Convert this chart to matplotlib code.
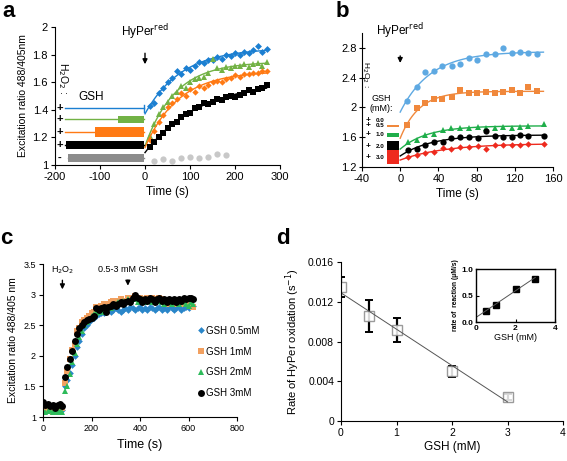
import numpy as np
import matplotlib
matplotlib.use("Agg")
import matplotlib.pyplot as plt
from matplotlib.patches import Rectangle

plt.rcParams['font.family'] = ['Liberation Sans', 'DejaVu Sans']
plt.rcParams['axes.unicode_minus'] = False

# ---------------- Panel a data ----------------
a_time = [10, 20, 30, 40, 50, 60, 70, 80, 90, 100, 110, 120, 130, 140, 150, 160, 170,
          180, 190, 200, 210, 220, 230, 240, 250, 260, 270]
a_blue = [1.43, 1.45, 1.52, 1.56, 1.60, 1.63, 1.68, 1.66, 1.70, 1.69, 1.72, 1.75, 1.74, 1.76,
          1.76, 1.78, 1.77, 1.80, 1.79, 1.81, 1.80, 1.82, 1.81, 1.83, 1.86, 1.82, 1.84]
a_green = [1.21, 1.30, 1.37, 1.42, 1.46, 1.50, 1.53, 1.57, 1.56, 1.60, 1.62, 1.63, 1.64, 1.67,
           1.77, 1.70, 1.69, 1.71, 1.70, 1.72, 1.72, 1.73, 1.71, 1.73, 1.74, 1.72, 1.75]
a_orange = [1.18, 1.25, 1.31, 1.36, 1.42, 1.45, 1.48, 1.52, 1.50, 1.55, 1.53, 1.57, 1.56, 1.58,
            1.60, 1.61, 1.60, 1.62, 1.63, 1.65, 1.64, 1.66, 1.66, 1.67, 1.67, 1.68, 1.68]
a_black = [1.13, 1.17, 1.20, 1.23, 1.27, 1.30, 1.31, 1.35, 1.37, 1.38, 1.41, 1.42, 1.45, 1.44,
           1.46, 1.48, 1.47, 1.49, 1.50, 1.49, 1.51, 1.52, 1.54, 1.53, 1.55, 1.56, 1.58]
a_gray_time = [20, 40, 60, 80, 100, 120, 140, 160, 180]
a_gray = [1.03, 1.04, 1.03, 1.05, 1.06, 1.05, 1.06, 1.08, 1.07]
# GSH pre-incubation bars: (level y, thin-line start, thick-bar start, thick height)
a_bar_y = [1.41, 1.33, 1.24, 1.145, 1.05]
a_bar_thin_start = [-178, -178, -178, -178, -172]
a_bar_thick_start = [None, -60, -112, -176, -172]
a_bar_height = [0, 0.055, 0.068, 0.064, 0.062]
a_signs = ['+', '+', '+', '+', '-']

# ---------------- Panel b data ----------------
b_time1 = [7, 18, 26, 35, 44, 54, 63, 72, 80, 90, 99, 108, 117, 125, 134, 143]
b_time2 = [8, 18, 26, 35, 45, 53, 63, 72, 81, 90, 99, 108, 117, 125, 134, 151]
b_blue = [2.08, 2.27, 2.47, 2.49, 2.56, 2.56, 2.58, 2.67, 2.64, 2.72, 2.72, 2.80, 2.73, 2.74, 2.73, 2.72]
b_orange = [1.76, 1.99, 2.06, 2.11, 2.11, 2.14, 2.23, 2.19, 2.19, 2.21, 2.19, 2.21, 2.23, 2.19, 2.28, 2.22]
b_green = [1.53, 1.56, 1.63, 1.65, 1.70, 1.72, 1.73, 1.73, 1.74, 1.73, 1.73, 1.74, 1.73, 1.74, 1.75, 1.78]
b_black = [1.43, 1.44, 1.50, 1.53, 1.54, 1.59, 1.60, 1.60, 1.59, 1.69, 1.62, 1.60, 1.60, 1.63, 1.62, 1.61]
b_red = [1.33, 1.36, 1.39, 1.40, 1.45, 1.44, 1.47, 1.47, 1.48, 1.44, 1.50, 1.49, 1.50, 1.50, 1.51, 1.51]
b_gsh_labels = ['0.0', '0.5', '1.0', '2.0', '3.0']
b_gsh_y = [1.83, 1.755, 1.63, 1.48, 1.33]
b_gsh_h = [0.01, 0.03, 0.06, 0.13, 0.19]

# ---------------- Panel c data ----------------
c_time = [0, 10, 20, 30, 40, 50, 60, 70, 80, 90, 100, 110, 120, 130, 140, 150, 160, 170, 180,
          190, 200, 210, 220, 230, 240, 250, 260, 270, 280, 290, 300, 310, 320, 330, 340, 350,
          360, 370, 380, 390, 400, 410, 420, 430, 440, 450, 460, 470, 480, 490, 500, 510, 520,
          530, 540, 550, 560, 570, 580, 590, 600, 610, 620]
c_gsh05 = [1.15, 1.12, 1.14, 1.10, 1.12, 1.10, 1.12, 1.14, 1.12, 1.50, 1.60, 1.72, 1.85, 2.00,
           2.15, 2.25, 2.35, 2.45, 2.50, 2.55, 2.60, 2.62, 2.65, 2.68, 2.70, 2.70, 2.72, 2.75,
           2.72, 2.75, 2.78, 2.75, 2.72, 2.75, 2.78, 2.75, 2.80, 2.78, 2.75, 2.78, 2.80, 2.75,
           2.78, 2.75, 2.80, 2.78, 2.75, 2.78, 2.80, 2.75, 2.78, 2.75, 2.80, 2.78, 2.75, 2.78,
           2.80, 2.75, 2.78, 2.80, 2.78, 2.85, 2.82]
c_gsh1 = [1.08, 1.10, 1.12, 1.10, 1.08, 1.12, 1.10, 1.12, 1.15, 1.55, 1.75, 1.95, 2.10, 2.20,
          2.40, 2.45, 2.55, 2.58, 2.62, 2.65, 2.70, 2.72, 2.80, 2.78, 2.82, 2.85, 2.80, 2.85,
          2.88, 2.90, 2.88, 2.90, 2.92, 2.90, 2.88, 2.95, 2.92, 2.95, 2.98, 2.92, 2.95, 2.90,
          2.92, 2.95, 2.92, 2.95, 2.90, 2.92, 2.95, 2.92, 2.90, 2.85, 2.88, 2.85, 2.90, 2.85,
          2.88, 2.85, 2.90, 2.88, 2.85, 2.82, 2.80]
c_gsh2 = [1.10, 1.08, 1.10, 1.12, 1.08, 1.10, 1.08, 1.10, 1.08, 1.42, 1.50, 1.70, 1.90, 2.05,
          2.20, 2.30, 2.40, 2.50, 2.55, 2.60, 2.65, 2.68, 2.70, 2.72, 2.75, 2.72, 2.78, 2.80,
          2.78, 2.82, 2.85, 2.88, 2.85, 2.90, 2.88, 2.92, 2.90, 2.95, 2.92, 2.88, 2.90, 2.92,
          2.88, 2.90, 2.92, 2.88, 2.90, 2.92, 2.90, 2.88, 2.85, 2.90, 2.88, 2.85, 2.90, 2.88,
          2.85, 2.88, 2.90, 2.85, 2.82, 2.88, 2.85]
c_gsh3 = [1.25, 1.20, 1.22, 1.18, 1.20, 1.15, 1.20, 1.22, 1.18, 1.65, 1.82, 1.95, 2.08, 2.25,
          2.35, 2.45, 2.50, 2.55, 2.58, 2.60, 2.62, 2.65, 2.78, 2.75, 2.78, 2.80, 2.72, 2.80,
          2.82, 2.85, 2.82, 2.85, 2.88, 2.85, 2.88, 2.90, 2.88, 2.95, 3.00, 2.95, 2.92, 2.88,
          2.92, 2.90, 2.95, 2.92, 2.88, 2.92, 2.95, 2.90, 2.92, 2.88, 2.92, 2.90, 2.92, 2.88,
          2.92, 2.90, 2.95, 2.92, 2.95, 2.95, 2.92]
c_labels = ['GSH 0.5mM', 'GSH 1mM', 'GSH 2mM', 'GSH 3mM']

# ---------------- Panel d data ----------------
d_gsh = [0, 0.5, 1, 2, 3]
d_rate = [0.0135, 0.0106, 0.0092, 0.0050, 0.0024]
d_err = [0.0010, 0.0016, 0.0012, 0.00055, 0.0003]
d_in_gsh = [0.5, 1, 2, 3]
d_in_rate = [0.21, 0.32, 0.63, 0.82]


def expfit(t, y, tgrid):
    t = np.asarray(t, float)
    y = np.asarray(y, float)
    best = None
    for tau in np.linspace(5, 400, 400):
        e = np.exp(-t / tau)
        A = np.vstack([np.ones_like(t), e]).T
        coef = np.linalg.lstsq(A, y, rcond=None)[0]
        r = np.sum((A @ coef - y) ** 2)
        if best is None or r < best[0]:
            best = (r, tau, coef)
    return best[2][0] + best[2][1] * np.exp(-tgrid / best[1])


W, H = 567, 461
fig = plt.figure(figsize=(W / 100, H / 100), dpi=100)


def rect(l, r, t, b):
    return [l / W, 1 - b / H, (r - l) / W, (b - t) / H]


def style(ax, fs):
    for s in ['top', 'right']:
        ax.spines[s].set_visible(False)
    ax.tick_params(labelsize=fs, length=3, width=0.8, direction='out', pad=2)


# ================= Panel a =================
ax = fig.add_axes(rect(55, 280, 27, 165))
style(ax, 8)
ax.set_xlim(-200, 300)
ax.set_ylim(1, 2)
ax.set_xticks([-200, -100, 0, 100, 200, 300])
ax.set_yticks([1, 1.2, 1.4, 1.6, 1.8, 2])
ax.set_yticklabels(['1', '1.2', '1.4', '1.6', '1.8', '2'])
col_a = ['#1b7fd1', '#72b245', '#ff7a14', 'black', '#a0a0a0']
tg = np.linspace(0, 270, 100)
for yv, mk, c, ms in [(a_blue, 'D', col_a[0], 3.5), (a_green, '^', col_a[1], 4.2),
                      (a_orange, 'D', col_a[2], 3.2), (a_black, 's', col_a[3], 4.2)]:
    ax.plot(tg, expfit(a_time, yv, tg), color=c, lw=1)
    ax.plot(a_time, yv, mk, color=c, ms=ms, mew=0)
ax.plot(a_gray_time, a_gray, 'o', color='#c8c8c8', ms=4.5, mew=0)
for i in range(5):
    yv = a_bar_y[i]
    c = col_a[i] if i < 4 else '#8c8c8c'
    ax.plot([a_bar_thin_start[i], -2], [yv, yv], color=c, lw=1)
    if a_bar_thick_start[i] is not None:
        ax.add_patch(Rectangle((a_bar_thick_start[i], yv - a_bar_height[i] / 2),
                               -2 - a_bar_thick_start[i], a_bar_height[i], color=c, lw=0))
    ax.text(-190, yv, a_signs[i], fontsize=8, ha='center', va='center', fontweight='bold')
ax.plot([-2, -2], [a_bar_y[0] - 0.025, a_bar_y[0] + 0.025], color=col_a[0], lw=1)
ax.text(-120, 1.45, 'GSH', fontsize=8.5, ha='center', va='bottom')
ax.text(-182, 1.63, 'H$_2$O$_2$ :', fontsize=7.5, rotation=-90, ha='center', va='center')
ax.annotate('', xy=(0, 1.71), xytext=(0, 1.83),
            arrowprops=dict(arrowstyle='-|>', color='black', lw=1, mutation_scale=7))
ax.text(0, 1.9, 'HyPer$^{\\mathrm{red}}$', fontsize=8.5, ha='center', va='bottom')
ax.set_xlabel('Time (s)', fontsize=8.5, labelpad=3)
ax.set_ylabel('Excitation ratio 488/405nm', fontsize=7.5, labelpad=3)
fig.text(2 / W, 1 - 1 / H, 'a', fontsize=16, fontweight='bold', va='top')

# ================= Panel b =================
ax = fig.add_axes(rect(362, 553, 33, 167))
style(ax, 8)
ax.tick_params(axis='y', direction='inout', length=4)
ax.set_xlim(-40, 160)
ax.set_ylim(1.2, 3.0)
ax.set_xticks([-40, 0, 40, 80, 120, 160])
ax.set_yticks([1.2, 1.6, 2.0, 2.4, 2.8])
ax.set_yticklabels(['1.2', '1.6', '2', '2.4', '2.8'])
col_b = ['#5ea9e2', '#f0883c', '#1fae4a', 'black', '#ee2a1e']
tg = np.linspace(0, 150, 100)
series_b = [(b_time1, b_blue, 'o', 4.5), (b_time1, b_orange, 's', 4.3),
            (b_time2, b_green, '^', 4.5), (b_time2, b_black, 'o', 4.5),
            (b_time2, b_red, 'D', 3.3)]
for (tt, yv, mk, ms), c in zip(series_b, col_b):
    ax.plot(tg, expfit(tt, yv, tg), color=c, lw=1)
    ax.plot(tt, yv, mk, color=c, ms=ms, mew=0)
for i in range(5):
    ax.text(-33.5, b_gsh_y[i], '+', fontsize=6, ha='center', va='center', fontweight='bold')
    ax.text(-21, b_gsh_y[i], b_gsh_labels[i], fontsize=4.5, ha='center', va='center',
            fontweight='bold')
    ax.add_patch(Rectangle((-13.5, b_gsh_y[i] - b_gsh_h[i] / 2), 12.5, b_gsh_h[i],
                           color=col_b[i], lw=0))
ax.text(-20, 1.93, 'GSH\n(mM):', fontsize=6.5, ha='center', va='bottom', linespacing=1.1)
ax.text(-37, 2.45, 'H$_2$O$_2$ :', fontsize=6, rotation=-90, ha='center', va='center')
ax.annotate('', xy=(0, 2.56), xytext=(0, 2.73),
            arrowprops=dict(arrowstyle='-|>', color='black', lw=1, mutation_scale=7))
ax.text(0, 2.9, 'HyPer$^{\\mathrm{red}}$', fontsize=8.5, ha='center', va='bottom')
ax.set_xlabel('Time (s)', fontsize=8.5, labelpad=3)
fig.text(336 / W, 1 - 1 / H, 'b', fontsize=16, fontweight='bold', va='top')

# ================= Panel c =================
ax = fig.add_axes(rect(43, 237, 264, 417))
style(ax, 6.5)
ax.set_xlim(0, 800)
ax.set_ylim(1, 3.5)
ax.set_xticks([0, 200, 400, 600, 800])
ax.set_yticks([1, 1.5, 2, 2.5, 3, 3.5])
ax.set_yticklabels(['1', '1.5', '2', '2.5', '3', '3.5'])
col_c = ['#2a86c9', '#f2a060', '#2dbb5a', 'black']
mk_c = ['D', 's', '^', 'o']
ms_c = [3.4, 4.4, 4.6, 5.0]
for yv, c, mk, ms, lab in zip([c_gsh05, c_gsh1, c_gsh2, c_gsh3], col_c, mk_c, ms_c, c_labels):
    ax.plot(c_time, yv, mk, color=c, ms=ms, mew=0, label=lab)
leg = ax.legend(loc='center left', bbox_to_anchor=(0.77, 0.36), frameon=False,
                fontsize=7, handletextpad=0.1, handlelength=0.9, labelspacing=1.1,
                borderaxespad=0)
ax.annotate('', xy=(80, 3.04), xytext=(80, 3.28),
            arrowprops=dict(arrowstyle='-|>', color='black', lw=1, mutation_scale=7))
ax.text(80, 3.3, 'H$_2$O$_2$', fontsize=6.5, ha='center', va='bottom')
ax.annotate('', xy=(350, 3.1), xytext=(350, 3.28),
            arrowprops=dict(arrowstyle='-|>', color='black', lw=1, mutation_scale=7))
ax.text(350, 3.33, '0.5-3 mM GSH', fontsize=6.5, ha='center', va='bottom')
ax.set_xlabel('Time (s)', fontsize=9, labelpad=4)
ax.set_ylabel('Excitation ratio 488/405 nm', fontsize=7.5, labelpad=4)
fig.text(0 / W, 1 - 228 / H, 'c', fontsize=16, fontweight='bold', va='top')

# ================= Panel d =================
ax = fig.add_axes(rect(341, 563, 262, 421))
style(ax, 7.5)
ax.set_xlim(0, 4)
ax.set_ylim(0, 0.016)
ax.set_xticks([0, 1, 2, 3, 4])
ax.set_yticks([0, 0.004, 0.008, 0.012, 0.016])
ax.set_yticklabels(['0', '0.004', '0.008', '0.012', '0.016'])
ax.errorbar(d_gsh, d_rate, yerr=d_err, fmt='none', ecolor='black', elinewidth=1.6,
            capsize=3, capthick=1.4)
ax.plot(d_gsh, d_rate, 's', mfc='white', mec='#8a8a8a', ms=6.5, mew=1, alpha=0.85)
p = np.polyfit(d_gsh, d_rate, 1)
xf = np.array([0, 3])
ax.plot(xf, np.polyval(p, xf), color='#555555', lw=0.7)
ax.set_xlabel('GSH (mM)', fontsize=8.5, labelpad=2)
ax.set_ylabel('Rate of HyPer oxidation (s$^{-1}$)', fontsize=8, labelpad=4)
fig.text(276 / W, 1 - 228 / H, 'd', fontsize=16, fontweight='bold', va='top')

axi = fig.add_axes(rect(476, 555, 269, 322))
axi.set_xlim(0, 4)
axi.set_ylim(0, 1.0)
axi.set_xticks([0, 2, 4])
axi.set_yticks([0, 0.5, 1.0])
axi.set_yticklabels(['0.0', '0.5', '1.0'])
axi.tick_params(labelsize=6, length=2, width=0.8, direction='in', pad=2)
for lab in axi.get_xticklabels() + axi.get_yticklabels():
    lab.set_fontweight('bold')
for s in axi.spines.values():
    s.set_linewidth(1)
axi.plot(d_in_gsh, d_in_rate, 's', color='black', ms=4.2)
pi = np.polyfit(d_in_gsh, d_in_rate, 1)
xf = np.array([0, 3])
axi.plot(xf, np.polyval(pi, xf), color='#555555', lw=0.7)
axi.set_xlabel('GSH (mM)', fontsize=6.5, labelpad=1)
axi.set_ylabel('rate of  reaction (\u03bcM/s)', fontsize=4.8, fontweight='bold', labelpad=2)

fig.savefig('out.png', dpi=100)
